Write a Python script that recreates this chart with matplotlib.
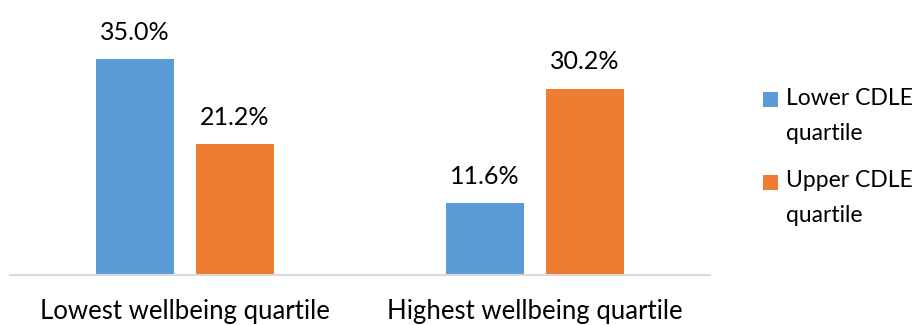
import matplotlib
matplotlib.use("Agg")
import matplotlib.pyplot as plt
from matplotlib.patches import Rectangle
import numpy as np

categories = ["Lowest wellbeing quartile", "Highest wellbeing quartile"]
series_names = ["Lower CDLE\nquartile", "Upper CDLE\nquartile"]
lower_cdle = [35.0, 11.6]
upper_cdle = [21.2, 30.2]
colors = ["#5B9BD5", "#ED7D31"]

plt.rcParams['font.family'] = ['Lato', 'DejaVu Sans']

W, H = 922, 325
fig = plt.figure(figsize=(W/100, H/100), dpi=100)
ax = fig.add_axes([10/W, (H-275)/H, 700/W, 245/H])

x = np.arange(len(categories))
bw = 0.223
off = 0.143
b1 = ax.bar(x - off, lower_cdle, bw, color=colors[0], label=series_names[0])
b2 = ax.bar(x + off, upper_cdle, bw, color=colors[1], label=series_names[1])

for bars, vals in ((b1, lower_cdle), (b2, upper_cdle)):
    for r, v in zip(bars, vals):
        ax.annotate(f"{v:.1f}%", (r.get_x() + r.get_width()/2, v),
                    xytext=(0, 11), textcoords="offset points",
                    ha="center", va="bottom", fontsize=18, color="#000000")

ax.set_xlim(-0.5, 1.5)
ax.set_ylim(0, 39.7)
ax.set_yticks([])
ax.set_xticks(x)
ax.set_xticklabels(categories, fontsize=18.5)
ax.tick_params(axis='x', length=0, pad=17)
for s in ("top", "right", "left"):
    ax.spines[s].set_visible(False)
ax.spines["bottom"].set_color("#D9D9D9")
ax.spines["bottom"].set_linewidth(1.5)

# legend drawn manually so the swatch aligns with the first text line
leg_y = [100, 182]
for name, col, yc in zip(series_names, colors, leg_y):
    fig.patches.append(Rectangle((763/W, 1 - (yc + 7.5)/H), 15/W, 15/H,
                                 transform=fig.transFigure, facecolor=col,
                                 edgecolor="none"))
    fig.text(786/W, 1 - (yc - 12)/H, name, fontsize=16.5, va="top", ha="left",
             linespacing=1.8)

fig.savefig("out.png", dpi=100)
